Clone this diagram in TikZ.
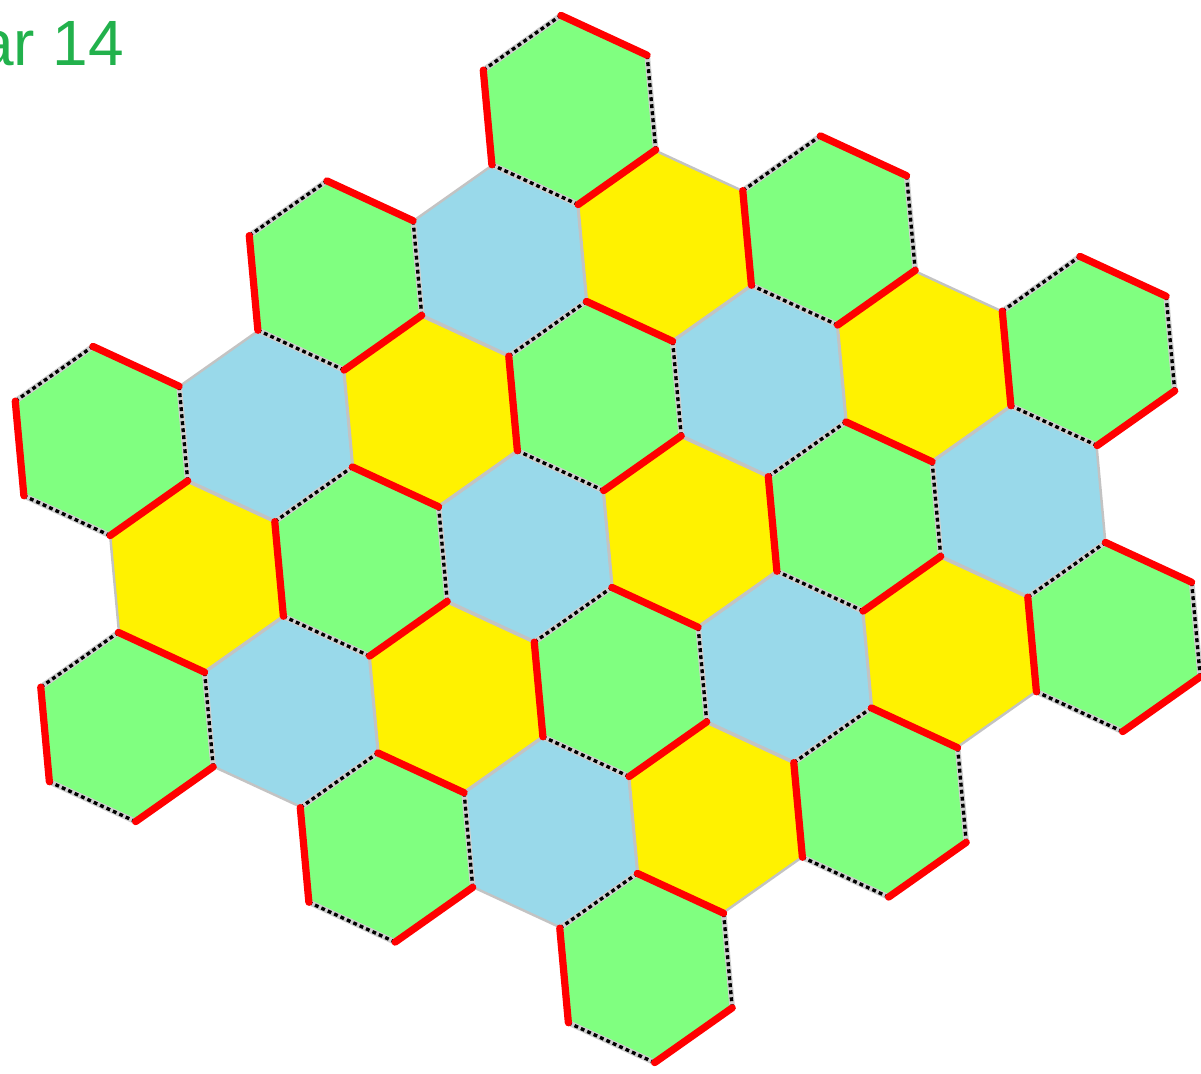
\documentclass[tikz,border=0pt]{standalone}
\usepackage{fontspec}
\newfontfamily\titlefont{Liberation Sans}
\definecolor{hgreen}{HTML}{80FF80}
\definecolor{hyellow}{HTML}{FFF200}
\definecolor{hblue}{HTML}{99D9EA}
\definecolor{tgreen}{HTML}{22B14C}
\definecolor{edgegrey}{HTML}{C3C3C3}
\begin{document}
\begin{tikzpicture}[x=0.01cm,y=-0.01cm,
  hexcell/.style={draw=edgegrey, line width=0.7pt, line join=round},
  greystripe/.style={draw=edgegrey!80, line width=1.6pt, line join=round},
  dashborder/.style={draw=black, line width=0.95pt, dash pattern=on 1.1pt off 0.9pt},
  redborder/.style={draw=red, line width=2.05pt, line cap=round},
  titletext/.style={text=tgreen, font=\titlefont\fontsize{18.2}{20}\selectfont, inner sep=0pt, outer sep=0pt}
]
\useasboundingbox (0,0) rectangle (1201,1074);
\clip (0,0) rectangle (1201,1074);
\def\R{95}
% cells: i/j/colour
\def\cells{0/0/hgreen,
  -2/1/hgreen, -1/1/hblue, 0/1/hyellow, 1/1/hgreen,
  -4/2/hgreen, -3/2/hblue, -2/2/hyellow, -1/2/hgreen, 0/2/hblue, 1/2/hyellow, 2/2/hgreen,
  -4/3/hyellow, -3/3/hgreen, -2/3/hblue, -1/3/hyellow, 0/3/hgreen, 1/3/hblue,
  -5/4/hgreen, -4/4/hblue, -3/4/hyellow, -2/4/hgreen, -1/4/hblue, 0/4/hyellow, 1/4/hgreen,
  -4/5/hgreen, -3/5/hblue, -2/5/hyellow, -1/5/hgreen,
  -3/6/hgreen}
\def\greens{0/0, -2/1, 1/1, -4/2, -1/2, 2/2, -3/3, 0/3, -5/4, -2/4, 1/4, -4/5, -1/5, -3/6}
% fills
\foreach \i/\j/\col in \cells {
  \pgfmathsetmacro\cx{569.5+164.5*\i+95*\j}
  \pgfmathsetmacro\cy{110-15*\i+135.5*\j}
  \begin{scope}[shift={(\cx,\cy)}]
    \path[hexcell, fill=\col] (-95.2:\R) -- (-35.2:\R) -- (24.8:\R) -- (84.8:\R) -- (144.8:\R) -- (204.8:\R) -- cycle;
  \end{scope}
}
% green borders
\foreach \i/\j in \greens {
  \pgfmathsetmacro\cx{569.5+164.5*\i+95*\j}
  \pgfmathsetmacro\cy{110-15*\i+135.5*\j}
  \begin{scope}[shift={(\cx,\cy)}]
    \path[greystripe] (-95.2:\R) -- (-35.2:\R) -- (24.8:\R) -- (84.8:\R) -- (144.8:\R) -- (204.8:\R) -- cycle;
    \path[dashborder] (-35.2:\R) -- (24.8:\R);
    \path[dashborder] (84.8:\R) -- (144.8:\R);
    \path[dashborder] (204.8:\R) -- (-95.2:\R);
    \path[redborder] (-95.2:\R) -- (-35.2:\R);
    \path[redborder] (24.8:\R) -- (84.8:\R);
    \path[redborder] (144.8:\R) -- (204.8:\R);
  \end{scope}
}
\node[titletext, anchor=base east] (title) at (124,66) {ar 14};
\end{tikzpicture}
\end{document}
